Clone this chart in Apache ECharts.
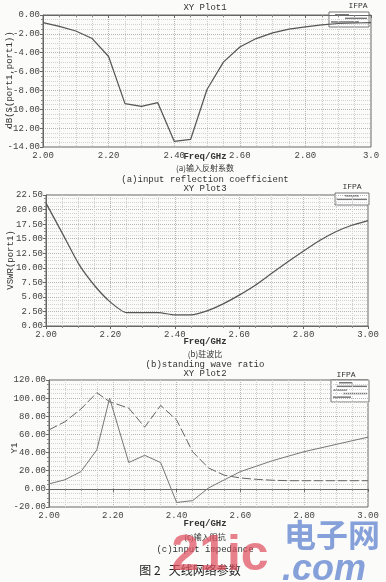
<!DOCTYPE html>
<html><head><meta charset="utf-8">
<script src="https://cdn.jsdelivr.net/npm/echarts@6/dist/echarts.min.js"></script>
<style>html,body{margin:0;padding:0;background:#fbfbfa}#c{width:386px;height:582px}</style>
</head><body><div id="c"></div>
<script>
const freq = [2.00,2.05,2.10,2.15,2.20,2.25,2.30,2.35,2.40,2.45,2.50,2.55,2.60,2.65,2.70,2.75,2.80,2.85,2.90,2.95,3.00];
const s11dB = [-0.8,-1.2,-1.7,-2.5,-4.4,-9.4,-9.7,-9.3,-13.4,-13.2,-7.9,-5.0,-3.4,-2.5,-1.9,-1.5,-1.25,-1.05,-0.9,-0.85,-0.8];
const vswr = [21.1,16.0,10.8,7.0,4.1,2.3,2.3,2.3,1.9,1.9,2.6,3.8,5.3,7.0,9.0,11.0,12.9,14.7,16.2,17.3,18.1];
const impFreqA = [2.00,2.05,2.10,2.15,2.19,2.25,2.30,2.35,2.40,2.45,2.50,2.55,2.60,2.65,2.70,2.75,2.80,2.85,2.90,2.95,3.00];
const impA = [65,74,88,106,96,89,68,92,76,41,23,15,12,10.5,9.5,9,9,9,9,9,9];
const impFreqB = [2.00,2.05,2.10,2.15,2.19,2.25,2.30,2.35,2.40,2.45,2.50,2.55,2.60,2.65,2.70,2.75,2.80,2.85,2.90,2.95,3.00];
const impB = [5.5,10,19,43,100,29,37,29,-15,-13,1,10,19,25,31,36,41,45,49,53,57];
const xTicks = {min:2, max:3, interval:0.2};

const chart = echarts.init(document.getElementById('c'));
const mono = 'Liberation Mono';
const cjk = 'Noto Sans CJK SC';
const gray = '#666';
function pair(xs, ys){ return xs.map((x,i)=>[x, ys[i]]); }
function xAx(idx, last){
  return {gridIndex:idx, type:'value', min:xTicks.min, max:xTicks.max, interval:xTicks.interval,
    axisLine:{show:true, lineStyle:{color:gray}}, axisTick:{show:true, inside:false, length:3, lineStyle:{color:gray}},
    minorTick:{show:true, splitNumber:4, length:2, lineStyle:{color:'#888'}},
    splitLine:{show:true, lineStyle:{color:'#b5b5b5', type:'dotted'}},
    minorSplitLine:{show:true, lineStyle:{color:'#cfcfcf', type:'dotted'}},
    axisLabel:{fontFamily:mono, fontSize:9, color:'#444', margin:4,
      formatter:v=> (Math.abs(v-3)<1e-6 && last) ? last : v.toFixed(2)}};
}
function yAx(idx, min, max, interval){
  return {gridIndex:idx, type:'value', min:min, max:max, interval:interval,
    axisLine:{show:true, lineStyle:{color:gray}}, axisTick:{show:true, length:3, lineStyle:{color:gray}},
    minorTick:{show:true, splitNumber:4, length:2, lineStyle:{color:'#888'}},
    splitLine:{show:true, lineStyle:{color:'#b5b5b5', type:'dotted'}},
    minorSplitLine:{show:true, lineStyle:{color:'#d2d2d2', type:'dotted'}},
    axisLabel:{fontFamily:mono, fontSize:9, color:'#444', margin:3, formatter:v=>v.toFixed(2)}};
}
function txt(x,y,t,opt,rot){ const e={type:'text', x:x, y:y, style:Object.assign({text:t, fill:'#333', font:'9px '+mono, textAlign:'center', textVerticalAlign:'middle'}, opt||{})}; if(rot) e.rotation=rot; return e; }
function legendBox(x,y,w,h,rows){
  const els=[{type:'rect', shape:{x:x,y:y,width:w,height:h}, style:{fill:'#fff', stroke:'#555', lineWidth:0.8}}];
  rows.forEach((r,i)=>{
    els.push({type:'rect', shape:{x:x+2+r[0], y:y+2+i*3.6, width:r[1], height:1.5}, style:{fill:'#777'}});
  });
  return els;
}
const graphics = [
  txt(205,8,'XY Plot1'), txt(358,6,'IFPA',{font:'8px '+mono}),
  txt(10,80,'dB(S(port1,port1))',{},Math.PI/2),
  txt(205,157,'Freq/GHz',{font:'bold 9px '+mono}),
  txt(205,168,'(a)输入反射系数',{font:'8px '+cjk}),
  txt(205,180,'(a)input reflection coefficient'),
  txt(205,189,'XY Plot3'), txt(352,187,'IFPA',{font:'8px '+mono}),
  txt(11,260,'VSWR(port1)',{},Math.PI/2),
  txt(205,342,'Freq/GHz',{font:'bold 9px '+mono}),
  txt(205,354,'(b)驻波比',{font:'8px '+cjk}),
  txt(205,365,'(b)standing wave ratio'),
  txt(205,374,'XY Plot2'), txt(346,375,'IFPA',{font:'8px '+mono}),
  txt(15,448,'Y1',{},Math.PI/2),
  txt(205,524,'Freq/GHz',{font:'bold 9px '+mono}),
  txt(205,537,'(c)输入阻抗',{font:'8px '+cjk}),
  txt(205,550,'(c)input impedance'),
  txt(190,570,'图 2   天线网络参数',{font:'12px '+cjk, fill:'#222'}),
  txt(220,556,'21ic',{font:'bold 50px "Liberation Sans Narrow", "Liberation Sans"', fill:'rgba(225,80,95,0.72)'}),
  txt(332,535,'电子网',{font:'bold 32px '+cjk, fill:'rgba(70,110,200,0.65)'}),
  txt(324,570,'.com',{font:'bold italic 36px "Liberation Sans"', fill:'rgba(70,110,200,0.65)'}),
].concat(legendBox(329,12,40,15,[[4,14],[14,22],[0,28]]))
 .concat(legendBox(335,193,34,12,[[8,14],[0,30]]))
 .concat(legendBox(331,380,38,22,[[6,14],[4,30],[0,14],[10,24],[0,18]]));

chart.setOption({
  backgroundColor:'#fbfbfa',
  animation:false,
  grid:[
    {left:43, right:15, top:15, height:132, show:true, borderColor:gray, borderWidth:1},
    {left:46, right:18, top:195, height:131, show:true, borderColor:gray, borderWidth:1},
    {left:49, right:18, top:380, height:127, show:true, borderColor:gray, borderWidth:1}
  ],
  xAxis:[xAx(0,'3.0'), xAx(1), xAx(2)],
  yAxis:[yAx(0,-14,0,2), yAx(1,0,22.5,2.5), yAx(2,-20,120,20)],
  series:[
    {type:'line', xAxisIndex:0, yAxisIndex:0, data:pair(freq,s11dB), symbol:'none', lineStyle:{color:'#555', width:1.2}},
    {type:'line', xAxisIndex:1, yAxisIndex:1, data:pair(freq,vswr), symbol:'none', smooth:0.2, lineStyle:{color:'#555', width:1.2}},
    {type:'line', xAxisIndex:2, yAxisIndex:2, data:pair(impFreqA,impA), symbol:'none', lineStyle:{color:'#666', width:1, type:[9,3]}},
    {type:'line', xAxisIndex:2, yAxisIndex:2, data:pair(impFreqB,impB), symbol:'none', lineStyle:{color:'#777', width:1}}
  ],
  graphic:graphics
});
</script></body></html>
